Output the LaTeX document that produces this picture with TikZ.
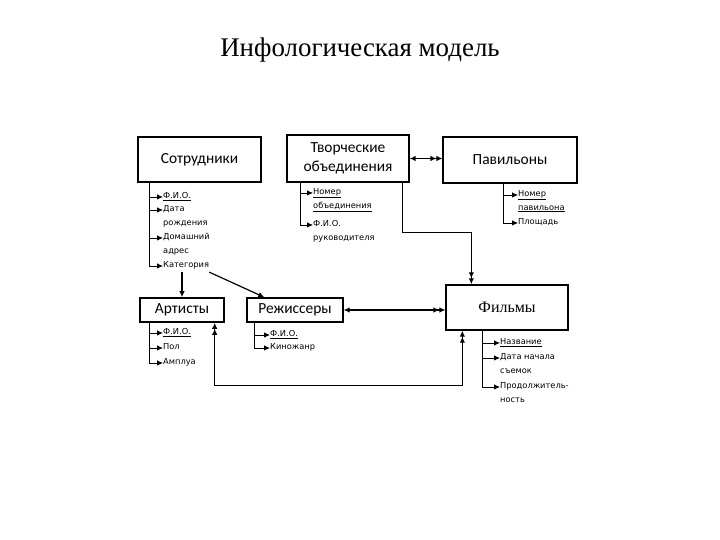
\documentclass[tikz,border=0pt]{standalone}
\usepackage{fontspec}
\setmainfont{Liberation Serif}
\newfontfamily\boxfont{Carlito}
\newfontfamily\attrfont{DejaVu Sans}
\usepackage{tikz}
\usetikzlibrary{arrows.meta,positioning}

\begin{document}
\begin{tikzpicture}[
  x=1bp,y=-1bp,
  >={Latex[length=6bp,width=5.5bp]},
  entity/.style={draw,line width=1.6pt,align=center,inner sep=0pt,
    font=\boxfont\fontsize{15.5}{19}\selectfont},
  attr/.style={anchor=north west,align=left,inner sep=0pt,
    font=\attrfont\fontsize{8.3}{14}\selectfont},
  attrline/.style={->,line width=0.8pt},
  rel/.style={line width=1.2pt}
]
  \useasboundingbox (0,0) rectangle (720,540);
  \node[font=\fontsize{27}{31}\selectfont] (title) at (360,50) {Инфологическая модель};

  % entities
  \node[entity,minimum width=123,minimum height=45] (sotr) at (199.5,159.5) {Сотрудники};
  \node[entity,minimum width=122,minimum height=47] (tvorch) at (348,158.5) {Творческие\\объединения};
  \node[entity,minimum width=134,minimum height=46] (pav) at (510,160) {Павильоны};
  \node[entity,minimum width=84,minimum height=24] (art) at (182,310) {Артисты};
  \node[entity,minimum width=96,minimum height=24] (rezh) at (295,310) {Режиссеры};
  \node[entity,minimum width=122,minimum height=45,
    font=\fontsize{16}{19}\selectfont] (film) at (507,307.5) {Фильмы};

  % attributes
  \node[attr] (s1) at (163,192) {\underline{Ф.И.О.}};
  \node[attr] (s2) at (163,205) {Дата\\рождения};
  \node[attr] (s3) at (163,233) {Домашний\\адрес};
  \node[attr] (s4) at (163,261) {Категория};
  \node[attr] (t1) at (313,188) {\underline{Номер}\\\underline{объединения}};
  \node[attr] (t2) at (313,220) {Ф.И.О.\\руководителя};
  \node[attr] (p1) at (518,190) {\underline{Номер}\\\underline{павильона}};
  \node[attr] (p2) at (518,218) {Площадь};
  \node[attr] (a1) at (163,328) {\underline{Ф.И.О.}};
  \node[attr] (a2) at (163,343) {Пол};
  \node[attr] (a3) at (163,358) {Амплуа};
  \node[attr] (r1) at (270,330) {\underline{Ф.И.О.}};
  \node[attr] (r2) at (270,343) {Киножанр};
  \node[attr] (f1) at (500,338) {\underline{Название}};
  \node[attr] (f2) at (500,353) {Дата начала\\съемок};
  \node[attr] (f3) at (500,382) {Продолжитель-\\ность};

  \foreach \a in {s1,s2,s3,s4} {\draw[attrline] ([xshift=12]sotr.south west) |- ([yshift=-5]\a.north west);}
  \foreach \a in {t1,t2} {\draw[attrline] ([xshift=14]tvorch.south west) |- ([yshift=-5]\a.north west);}
  \foreach \a in {p1,p2} {\draw[attrline] ([xshift=61]pav.south west) |- ([yshift=-5]\a.north west);}
  \foreach \a in {a1,a2,a3} {\draw[attrline] ([xshift=10]art.south west) |- ([yshift=-5]\a.north west);}
  \foreach \a in {r1,r2} {\draw[attrline] ([xshift=8]rezh.south west) |- ([yshift=-5]\a.north west);}
  \foreach \a in {f1,f2,f3} {\draw[attrline] ([xshift=37]film.south west) |- ([yshift=-5]\a.north west);}

  % relationships
  \draw[rel,->] ([yshift=-3]s4.south -| art.north) -- (art.north);
  \draw[rel,->] ([yshift=-3]s4.south east) -- ([xshift=18]rezh.north west);
  \draw[rel,<->>] (tvorch.east) -- (tvorch.east -| pav.west);
  \draw[rel,<->>] (rezh.east) -- (rezh.east -| film.west);
  \draw[rel,<<-] ([xshift=26]film.north west) -- ++(0,-52) -| ([xshift=-7]tvorch.south east);
  \draw[rel,<<->>] ([xshift=-10]art.south east) -- ++(0,63) -| ([xshift=17]film.south west);
\end{tikzpicture}
\end{document}
